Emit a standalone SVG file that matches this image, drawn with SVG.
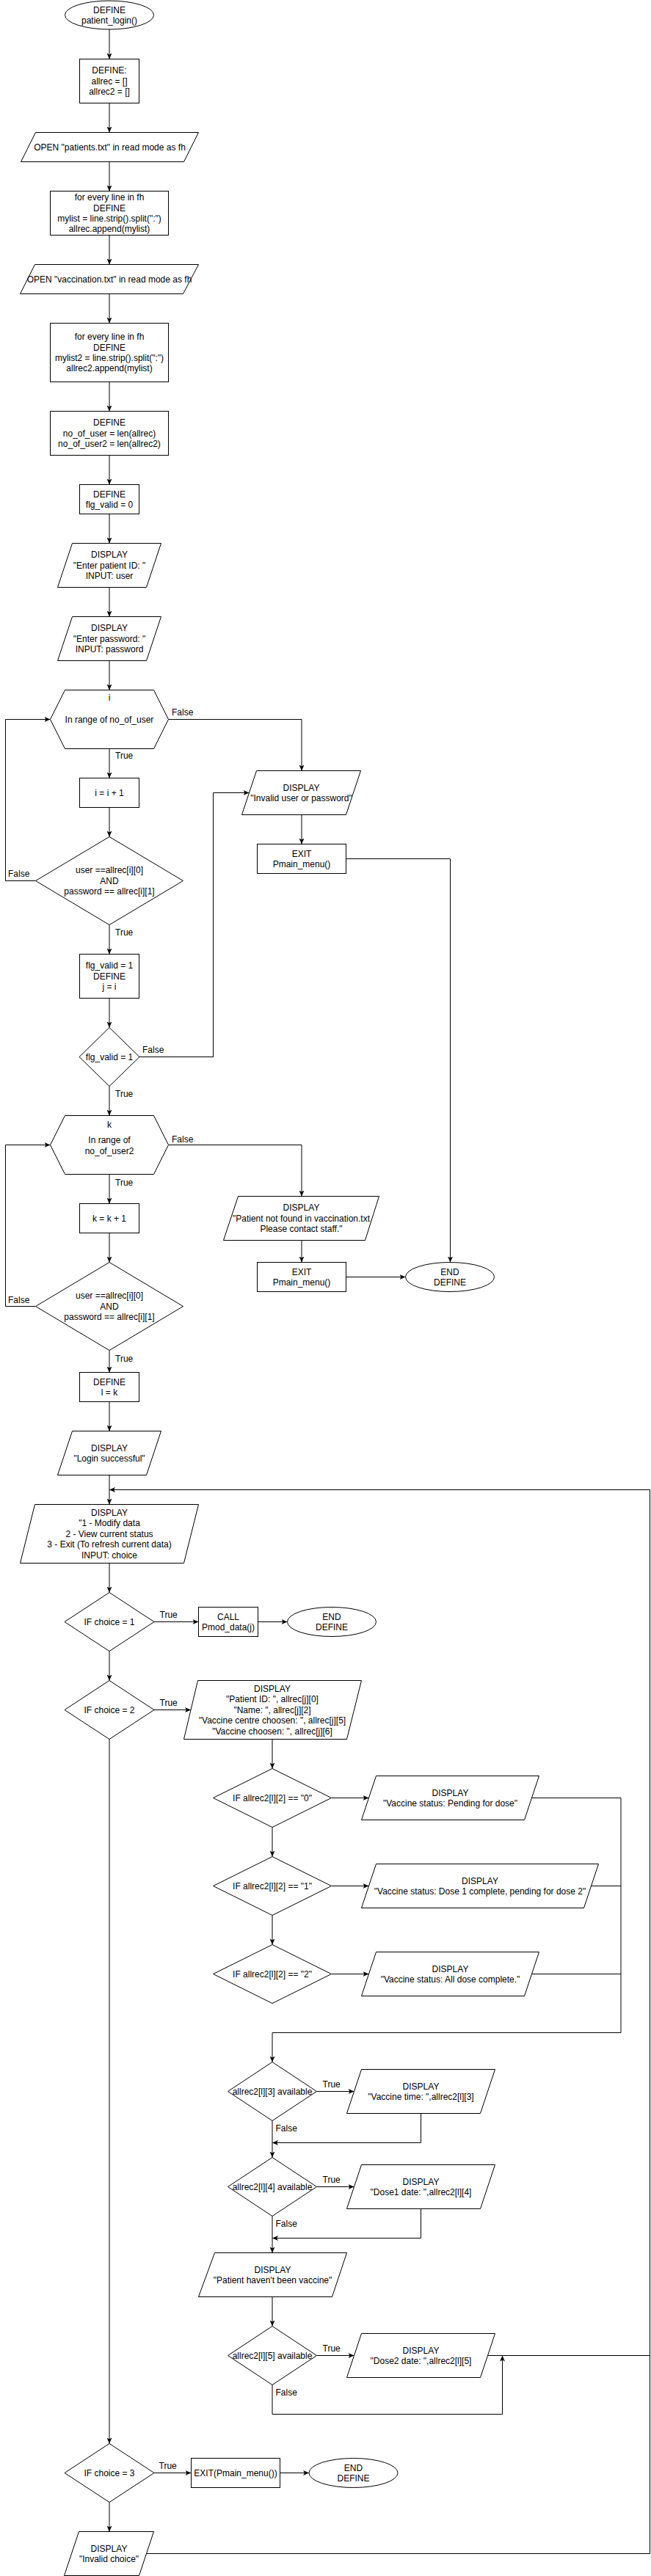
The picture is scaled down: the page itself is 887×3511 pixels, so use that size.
<svg xmlns="http://www.w3.org/2000/svg" width="887" height="3511" viewBox="0 0 887 3511">
<style>
.n{fill:#fff;stroke:#000;stroke-width:1}
.e{fill:none;stroke:#000;stroke-width:1}
text{font-family:"Liberation Sans",Arial,sans-serif;font-size:12px;fill:#000}
.t{text-anchor:middle}
.l{text-anchor:start}
</style>
<defs>
<marker id="arr" markerWidth="10" markerHeight="10" refX="8" refY="4" orient="auto" markerUnits="userSpaceOnUse"><path d="M0,0.5 L8,4 L0,7.5 L2,4 Z" fill="#000"/></marker>
</defs>
<rect width="887" height="3511" fill="#fff"/>
<g id="connectors">
<path class="e" marker-end="url(#arr)" d="M149,40 V80.5"/>
<path class="e" marker-end="url(#arr)" d="M149,140.5 V180.5"/>
<path class="e" marker-end="url(#arr)" d="M149,220.5 V260.5"/>
<path class="e" marker-end="url(#arr)" d="M149,320.5 V360.5"/>
<path class="e" marker-end="url(#arr)" d="M149,400.5 V440.5"/>
<path class="e" marker-end="url(#arr)" d="M149,520.5 V560.5"/>
<path class="e" marker-end="url(#arr)" d="M149,620.5 V660.5"/>
<path class="e" marker-end="url(#arr)" d="M149,700.5 V740.5"/>
<path class="e" marker-end="url(#arr)" d="M149,800.5 V840.5"/>
<path class="e" marker-end="url(#arr)" d="M149,900.5 V940.5"/>
<path class="e" marker-end="url(#arr)" d="M149,1020.5 V1060.5"/>
<path class="e" marker-end="url(#arr)" d="M229.5,980.5 H411 V1050.5"/>
<path class="e" marker-end="url(#arr)" d="M149,1100.5 V1140.5"/>
<path class="e" marker-end="url(#arr)" d="M48.5,1200.5 H7.5 V980.5 H68.5"/>
<path class="e" marker-end="url(#arr)" d="M149,1260.5 V1300.5"/>
<path class="e" marker-end="url(#arr)" d="M149,1360.5 V1400.5"/>
<path class="e" marker-end="url(#arr)" d="M190,1440.5 H290.5 V1080.5 H339.5"/>
<path class="e" marker-end="url(#arr)" d="M411,1110.5 V1150.5"/>
<path class="e" marker-end="url(#arr)" d="M471.5,1170.5 H613.5 V1720.5"/>
<path class="e" marker-end="url(#arr)" d="M149,1480.5 V1520.5"/>
<path class="e" marker-end="url(#arr)" d="M229.5,1560.5 H411 V1630.5"/>
<path class="e" marker-end="url(#arr)" d="M149,1600.5 V1640.5"/>
<path class="e" marker-end="url(#arr)" d="M149,1680.5 V1720.5"/>
<path class="e" marker-end="url(#arr)" d="M48.5,1780.5 H7.5 V1560.5 H68.5"/>
<path class="e" marker-end="url(#arr)" d="M149,1840.5 V1870.5"/>
<path class="e" marker-end="url(#arr)" d="M411,1690.5 V1720.5"/>
<path class="e" marker-end="url(#arr)" d="M471.5,1740.5 H552.5"/>
<path class="e" marker-end="url(#arr)" d="M149,1910.5 V1950.5"/>
<path class="e" marker-end="url(#arr)" d="M149,2010.5 V2050.5"/>
<path class="e" marker-end="url(#arr)" d="M199.5,3480.5 H885.5 V2030.5 H149"/>
<path class="e" marker-end="url(#arr)" d="M149,2130.5 V2170.5"/>
<path class="e" marker-end="url(#arr)" d="M210,2210.5 H270.5"/>
<path class="e" marker-end="url(#arr)" d="M351.5,2210.5 H391.5"/>
<path class="e" marker-end="url(#arr)" d="M149,2250.5 V2290.5"/>
<path class="e" marker-end="url(#arr)" d="M210,2330.5 H260"/>
<path class="e" marker-end="url(#arr)" d="M371,2370.5 V2410.5"/>
<path class="e" marker-end="url(#arr)" d="M451.5,2450.5 H502.5"/>
<path class="e" marker-end="url(#arr)" d="M371,2490.5 V2530.5"/>
<path class="e" marker-end="url(#arr)" d="M451.5,2570.5 H502.5"/>
<path class="e" marker-end="url(#arr)" d="M371,2610.5 V2650.5"/>
<path class="e" marker-end="url(#arr)" d="M451.5,2690.5 H502.5"/>
<path class="e" marker-end="url(#arr)" d="M724.5,2450.5 H846 V2770.5 H371 V2810.5"/>
<path class="e" d="M805.5,2570.5 H846"/>
<path class="e" d="M724.5,2690.5 H846"/>
<path class="e" marker-end="url(#arr)" d="M431.5,2850.5 H482.5"/>
<path class="e" marker-end="url(#arr)" d="M371,2890.5 V2940.5"/>
<path class="e" marker-end="url(#arr)" d="M573.5,2880.5 V2920.5 H371"/>
<path class="e" marker-end="url(#arr)" d="M431.5,2980.5 H482.5"/>
<path class="e" marker-end="url(#arr)" d="M371,3020.5 V3070.5"/>
<path class="e" marker-end="url(#arr)" d="M573.5,3010.5 V3050.5 H371"/>
<path class="e" marker-end="url(#arr)" d="M371,3130.5 V3170.5"/>
<path class="e" marker-end="url(#arr)" d="M431.5,3210.5 H482.5"/>
<path class="e" d="M664.5,3210.5 H885.5"/>
<path class="e" marker-end="url(#arr)" d="M371,3250.5 V3290.5 H684.5 V3210.5"/>
<path class="e" marker-end="url(#arr)" d="M149,2370.5 V3330.5"/>
<path class="e" marker-end="url(#arr)" d="M210,3370.5 H260.5"/>
<path class="e" marker-end="url(#arr)" d="M381.5,3370.5 H421"/>
<path class="e" marker-end="url(#arr)" d="M149,3410.5 V3450.5"/>
<text class="l" x="157" y="1034">True</text>
<text class="l" x="234" y="975">False</text>
<text class="l" x="11" y="1195">False</text>
<text class="l" x="157" y="1274.5">True</text>
<text class="l" x="194" y="1434.5">False</text>
<text class="l" x="157" y="1495">True</text>
<text class="l" x="234" y="1557">False</text>
<text class="l" x="157" y="1616">True</text>
<text class="l" x="11" y="1776">False</text>
<text class="l" x="157" y="1855.5">True</text>
<text class="l" x="217.5" y="2205">True</text>
<text class="l" x="217.5" y="2324.5">True</text>
<text class="l" x="439.5" y="2845">True</text>
<text class="l" x="375.5" y="2904.5">False</text>
<text class="l" x="439.5" y="2975">True</text>
<text class="l" x="375.5" y="3034.5">False</text>
<text class="l" x="439.5" y="3205">True</text>
<text class="l" x="375.5" y="3265">False</text>
<text class="l" x="216.5" y="3365">True</text>
</g>
<g id="start"><ellipse class="n" cx="149" cy="20.5" rx="60.5" ry="19.5"/><text class="t" x="149"><tspan x="149" y="17.5">DEFINE</tspan><tspan x="149" y="31.9">patient_login()</tspan></text></g>
<g id="def1"><rect class="n" x="108.5" y="80.5" width="81" height="60"/><text class="t"><tspan x="149" y="100.3">DEFINE:</tspan><tspan x="149" y="114.7">allrec = []</tspan><tspan x="149" y="129.1">allrec2 = []</tspan></text></g>
<g id="open1"><polygon class="n" points="48.5,180.5 270.5,180.5 250.5,220.5 28.5,220.5"/><text class="t" x="149.5" y="204.7">OPEN "patients.txt" in read mode as fh</text></g>
<g id="loop1"><rect class="n" x="68.5" y="260.5" width="161" height="60"/><text class="t"><tspan x="149" y="273.1">for every line in fh</tspan><tspan x="149" y="287.5">DEFINE</tspan><tspan x="149" y="301.9">mylist = line.strip().split(":")</tspan><tspan x="149" y="316.3">allrec.append(mylist)</tspan></text></g>
<g id="open2"><polygon class="n" points="47.5,360.5 270.5,360.5 249.5,400.5 27.5,400.5"/><text class="t" x="149" y="384.7">OPEN "vaccination.txt" in read mode as fh</text></g>
<g id="loop2"><rect class="n" x="68.5" y="440.5" width="161" height="80"/><text class="t"><tspan x="149" y="463.1">for every line in fh</tspan><tspan x="149" y="477.5">DEFINE</tspan><tspan x="149" y="491.9">mylist2 = line.strip().split(":")</tspan><tspan x="149" y="506.3">allrec2.append(mylist)</tspan></text></g>
<g id="def2"><rect class="n" x="68.5" y="560.5" width="161" height="60"/><text class="t"><tspan x="149" y="580.3">DEFINE</tspan><tspan x="149" y="594.7">no_of_user = len(allrec)</tspan><tspan x="149" y="609.1">no_of_user2 = len(allrec2)</tspan></text></g>
<g id="def3"><rect class="n" x="108.5" y="660.5" width="81" height="40"/><text class="t"><tspan x="149" y="677.5">DEFINE</tspan><tspan x="149" y="691.9">flg_valid = 0</tspan></text></g>
<g id="disp1"><polygon class="n" points="98.5,740.5 219.5,740.5 199.5,800.5 78.5,800.5"/><text class="t"><tspan x="149" y="760.3">DISPLAY</tspan><tspan x="149" y="774.7">"Enter patient ID: "</tspan><tspan x="149" y="789.1">INPUT: user</tspan></text></g>
<g id="disp2"><polygon class="n" points="98.5,840.5 219.5,840.5 199.5,900.5 78.5,900.5"/><text class="t"><tspan x="149" y="860.3">DISPLAY</tspan><tspan x="149" y="874.7">"Enter password: "</tspan><tspan x="149" y="889.1">INPUT: password</tspan></text></g>
<g id="hex1"><polygon class="n" points="88.5,940.5 209.5,940.5 229.5,980.5 209.5,1020.5 88.5,1020.5 68.5,980.5"/><text class="t"><tspan x="149" y="954.7">i</tspan><tspan x="149" y="985">In range of no_of_user</tspan></text></g>
<g id="inc1"><rect class="n" x="108.5" y="1060.5" width="81" height="40"/><text class="t" x="149" y="1084.7">i = i + 1</text></g>
<g id="dia1"><polygon class="n" points="149,1140.5 249.5,1200.5 149,1260.5 48.5,1200.5"/><text class="t"><tspan x="149" y="1190.3">user ==allrec[i][0]</tspan><tspan x="149" y="1204.7">AND</tspan><tspan x="149" y="1219.1">password == allrec[i][1]</tspan></text></g>
<g id="setflg"><rect class="n" x="108.5" y="1300.5" width="81" height="60"/><text class="t"><tspan x="149" y="1320.3">flg_valid = 1</tspan><tspan x="149" y="1334.7">DEFINE</tspan><tspan x="149" y="1349.1">j = i</tspan></text></g>
<g id="dia2"><polygon class="n" points="149,1400.5 190,1440.5 149,1480.5 108,1440.5"/><text class="t" x="149" y="1444.7">flg_valid = 1</text></g>
<g id="dispInvalid"><polygon class="n" points="349.5,1050.5 491.5,1050.5 471.5,1110.5 329.5,1110.5"/><text class="t"><tspan x="410.5" y="1077.5">DISPLAY</tspan><tspan x="410.5" y="1091.9">"Invalid user or password"</tspan></text></g>
<g id="exit1"><rect class="n" x="350.5" y="1150.5" width="121" height="40"/><text class="t"><tspan x="411" y="1167.5">EXIT</tspan><tspan x="411" y="1181.9">Pmain_menu()</tspan></text></g>
<g id="hex2"><polygon class="n" points="88.5,1520.5 209.5,1520.5 229.5,1560.5 209.5,1600.5 88.5,1600.5 68.5,1560.5"/><text class="t"><tspan x="149" y="1536.7">k</tspan><tspan x="149" y="1557.7">In range of</tspan><tspan x="149" y="1572.7">no_of_user2</tspan></text></g>
<g id="inc2"><rect class="n" x="108.5" y="1640.5" width="81" height="40"/><text class="t" x="149" y="1664.7">k = k + 1</text></g>
<g id="dia3"><polygon class="n" points="149,1720.5 249.5,1780.5 149,1840.5 48.5,1780.5"/><text class="t"><tspan x="149" y="1770.3">user ==allrec[i][0]</tspan><tspan x="149" y="1784.7">AND</tspan><tspan x="149" y="1799.1">password == allrec[i][1]</tspan></text></g>
<g id="defl"><rect class="n" x="108.5" y="1870.5" width="81" height="40"/><text class="t"><tspan x="149" y="1887.5">DEFINE</tspan><tspan x="149" y="1901.9">l = k</tspan></text></g>
<g id="dispNF"><polygon class="n" points="324.5,1630.5 516.5,1630.5 497.5,1690.5 304.5,1690.5"/><text class="t"><tspan x="410.5" y="1650.3">DISPLAY</tspan><tspan x="410.5" y="1664.7">"Patient not found in vaccination.txt</tspan><tspan x="410.5" y="1679.1">Please contact staff."</tspan></text></g>
<g id="exit2"><rect class="n" x="350.5" y="1720.5" width="121" height="40"/><text class="t"><tspan x="411" y="1737.5">EXIT</tspan><tspan x="411" y="1751.9">Pmain_menu()</tspan></text></g>
<g id="end1"><ellipse class="n" cx="613" cy="1740.5" rx="60.5" ry="20"/><text class="t"><tspan x="613" y="1737.5">END</tspan><tspan x="613" y="1751.9">DEFINE</tspan></text></g>
<g id="dispLogin"><polygon class="n" points="98.5,1950.5 219.5,1950.5 199.5,2010.5 78.5,2010.5"/><text class="t"><tspan x="149" y="1977.5">DISPLAY</tspan><tspan x="149" y="1991.9">"Login successful"</tspan></text></g>
<g id="menu"><polygon class="n" points="47.5,2050.5 270.5,2050.5 250.5,2130.5 27.5,2130.5"/><text class="t"><tspan x="149" y="2065.9">DISPLAY</tspan><tspan x="149" y="2080.3">"1 - Modify data</tspan><tspan x="149" y="2094.7">2 - View current status</tspan><tspan x="149" y="2109.1">3 - Exit (To refresh current data)</tspan><tspan x="149" y="2123.5">INPUT: choice</tspan></text></g>
<g id="dc1"><polygon class="n" points="149,2170.5 210,2210.5 149,2250.5 88,2210.5"/><text class="t" x="149" y="2214.7">IF choice = 1</text></g>
<g id="call"><rect class="n" x="270.5" y="2190.5" width="81" height="40"/><text class="t"><tspan x="311" y="2207.5">CALL</tspan><tspan x="311" y="2221.9">Pmod_data(j)</tspan></text></g>
<g id="end2"><ellipse class="n" cx="452" cy="2210.5" rx="60.5" ry="20"/><text class="t"><tspan x="452" y="2207.5">END</tspan><tspan x="452" y="2221.9">DEFINE</tspan></text></g>
<g id="dc2"><polygon class="n" points="149,2290.5 210,2330.5 149,2370.5 88,2330.5"/><text class="t" x="149" y="2334.7">IF choice = 2</text></g>
<g id="dispInfo"><polygon class="n" points="269.5,2290.5 492.5,2290.5 472.5,2370.5 250.5,2370.5"/><text class="t"><tspan x="371" y="2305.9">DISPLAY</tspan><tspan x="371" y="2320.3">"Patient ID: ", allrec[j][0]</tspan><tspan x="371" y="2334.7">"Name: ", allrec[j][2]</tspan><tspan x="371" y="2349.1">"Vaccine centre choosen: ", allrec[j][5]</tspan><tspan x="371" y="2363.5">"Vaccine choosen: ", allrec[j][6]</tspan></text></g>
<g id="ds0"><polygon class="n" points="371,2410.5 451.5,2450.5 371,2490.5 290.5,2450.5"/><text class="t" x="371" y="2454.7">IF allrec2[l][2] == "0"</text></g>
<g id="dispS0"><polygon class="n" points="512.5,2420.5 734.5,2420.5 714.5,2480.5 492.5,2480.5"/><text class="t"><tspan x="613.5" y="2447.5">DISPLAY</tspan><tspan x="613.5" y="2461.9">"Vaccine status: Pending for dose"</tspan></text></g>
<g id="ds1"><polygon class="n" points="371,2530.5 451.5,2570.5 371,2610.5 290.5,2570.5"/><text class="t" x="371" y="2574.7">IF allrec2[l][2] == "1"</text></g>
<g id="dispS1"><polygon class="n" points="512.5,2540.5 815.5,2540.5 795.5,2600.5 492.5,2600.5"/><text class="t"><tspan x="654" y="2567.5">DISPLAY</tspan><tspan x="654" y="2581.9">"Vaccine status: Dose 1 complete, pending for dose 2"</tspan></text></g>
<g id="ds2"><polygon class="n" points="371,2650.5 451.5,2690.5 371,2730.5 290.5,2690.5"/><text class="t" x="371" y="2694.7">IF allrec2[l][2] == "2"</text></g>
<g id="dispS2"><polygon class="n" points="512.5,2660.5 734.5,2660.5 714.5,2720.5 492.5,2720.5"/><text class="t"><tspan x="613.5" y="2687.5">DISPLAY</tspan><tspan x="613.5" y="2701.9">"Vaccine status: All dose complete."</tspan></text></g>
<g id="da3"><polygon class="n" points="371,2810.5 431.5,2850.5 371,2890.5 310.5,2850.5"/><text class="t" x="371" y="2854.7">allrec2[l][3] available</text></g>
<g id="dispTime"><polygon class="n" points="492.5,2820.5 674.5,2820.5 654.5,2880.5 472.5,2880.5"/><text class="t"><tspan x="573.5" y="2847.5">DISPLAY</tspan><tspan x="573.5" y="2861.9">"Vaccine time: ",allrec2[l][3]</tspan></text></g>
<g id="da4"><polygon class="n" points="371,2940.5 431.5,2980.5 371,3020.5 310.5,2980.5"/><text class="t" x="371" y="2984.7">allrec2[l][4] available</text></g>
<g id="dispD1"><polygon class="n" points="492.5,2950.5 674.5,2950.5 654.5,3010.5 472.5,3010.5"/><text class="t"><tspan x="573.5" y="2977.5">DISPLAY</tspan><tspan x="573.5" y="2991.9">"Dose1 date: ",allrec2[l][4]</tspan></text></g>
<g id="dispNV"><polygon class="n" points="292.5,3070.5 472.5,3070.5 452.5,3130.5 270.5,3130.5"/><text class="t"><tspan x="371.5" y="3097.5">DISPLAY</tspan><tspan x="371.5" y="3111.9">"Patient haven't been vaccine"</tspan></text></g>
<g id="da5"><polygon class="n" points="371,3170.5 431.5,3210.5 371,3250.5 310.5,3210.5"/><text class="t" x="371" y="3214.7">allrec2[l][5] available</text></g>
<g id="dispD2"><polygon class="n" points="492.5,3180.5 674.5,3180.5 654.5,3240.5 472.5,3240.5"/><text class="t"><tspan x="573.5" y="3207.5">DISPLAY</tspan><tspan x="573.5" y="3221.9">"Dose2 date: ",allrec2[l][5]</tspan></text></g>
<g id="dc3"><polygon class="n" points="149,3330.5 210,3370.5 149,3410.5 88,3370.5"/><text class="t" x="149" y="3374.7">IF choice = 3</text></g>
<g id="exit3"><rect class="n" x="260.5" y="3350.5" width="121" height="40"/><text class="t" x="321" y="3374.7">EXIT(Pmain_menu())</text></g>
<g id="end3"><ellipse class="n" cx="481.5" cy="3370.5" rx="60.5" ry="20"/><text class="t"><tspan x="481.5" y="3367.5">END</tspan><tspan x="481.5" y="3381.9">DEFINE</tspan></text></g>
<g id="dispIC"><polygon class="n" points="107.5,3450.5 209.5,3450.5 189.5,3510.5 87.5,3510.5"/><text class="t"><tspan x="148.5" y="3477.5">DISPLAY</tspan><tspan x="148.5" y="3491.9">"Invalid choice"</tspan></text></g>
</svg>
